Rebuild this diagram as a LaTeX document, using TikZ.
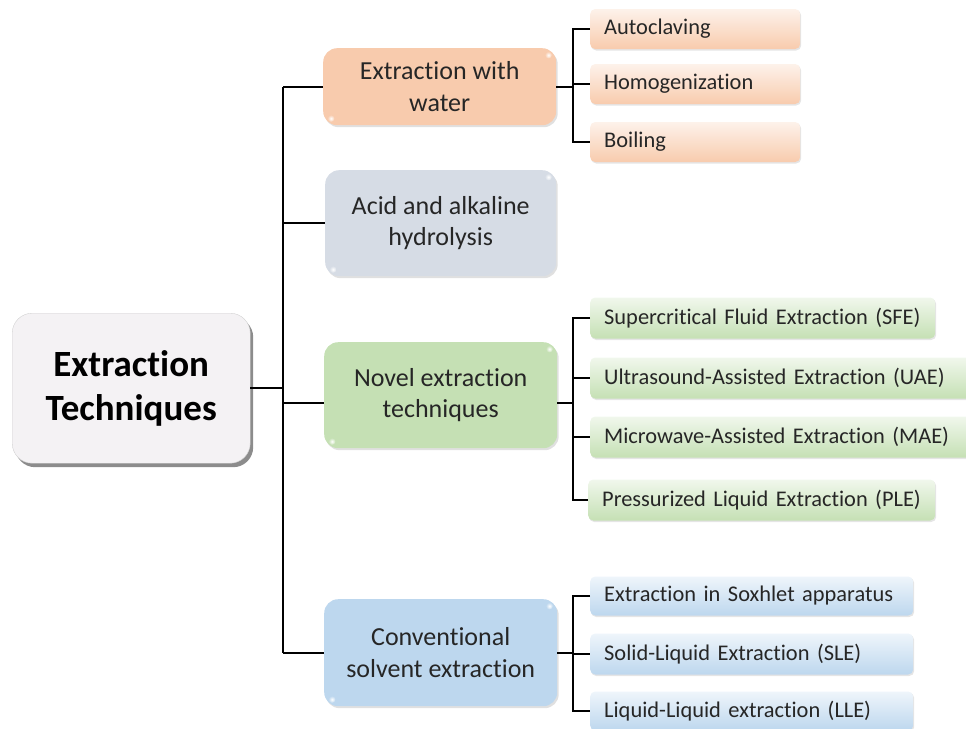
\documentclass[tikz,border=0pt]{standalone}
\usepackage{fontspec}
\setmainfont{Carlito}[RawFeature={-liga}]
\usetikzlibrary{shadows,calc}

\definecolor{ink}{HTML}{262626}
\definecolor{peach}{HTML}{F8CBAD}
\definecolor{slate}{HTML}{D6DCE5}
\definecolor{sage}{HTML}{C5E0B4}
\definecolor{sky}{HTML}{BDD7EE}
\definecolor{rootfill}{HTML}{F4F2F4}

\begin{document}
\begin{tikzpicture}[x=1pt,y=-1pt,
  conn/.style={line width=1.8pt, black},
  rootbox/.style={anchor=north west, rounded corners=20pt, fill=rootfill,
    draw=gray!35, line width=0.4pt,
    text=black, font=\fontsize{37}{44}\selectfont\bfseries, align=center,
    minimum width=238pt, minimum height=150pt, inner sep=0pt,
    drop shadow={shadow xshift=3pt, shadow yshift=-4pt, fill=black, opacity=0.45}},
  catbox/.style={anchor=north west, rounded corners=14pt, fill=#1,
    text=ink, font=\fontsize{26}{31.5}\selectfont, align=center,
    inner sep=0pt,
    drop shadow={shadow xshift=1.5pt, shadow yshift=-2pt, fill=black, opacity=0.12}},
  leafbox/.style={anchor=west, rounded corners=5pt, top color=#1!25, bottom color=#1,
    text=ink, font=\fontsize{22.4}{26}\selectfont,
    inner xsep=14pt, inner ysep=0pt,
    drop shadow={shadow xshift=1pt, shadow yshift=-1.5pt, fill=black, opacity=0.10}}
]
\useasboundingbox (0,0) rectangle (966,728);
\begin{scope}
\clip (0,0) rectangle (966,728);

% root
\node[rootbox] (root) at (12,313) {Extraction\\Techniques};

% main branches
\node[catbox=peach, minimum width=233pt, minimum height=77pt] (water) at (323,48) {Extraction with\\water};
\node[catbox=slate, minimum width=231pt, minimum height=106pt] (acid) at (325,170) {Acid and alkaline\\hydrolysis};
\node[catbox=sage, minimum width=233pt, minimum height=106pt] (novel) at (324,342) {Novel extraction\\techniques};
\node[catbox=sky, minimum width=233pt, minimum height=107pt] (conv) at (324,599) {Conventional\\solvent extraction};

% soft highlights on the branch boxes
\foreach \b/\c in {water/peach,acid/slate,novel/sage,conv/sky}{
  \shade[inner color=white, outer color=\c] ([xshift=-8pt,yshift=-7pt]\b.north east) circle (3.5pt);
  \shade[inner color=white, outer color=\c] ([xshift=8pt,yshift=7pt]\b.south west) circle (3.5pt);
}

% leaves: water
\node[leafbox=peach, text width=182pt, minimum height=40pt] (auto) at (590,29) {Autoclaving};
\node[leafbox=peach, text width=182pt, minimum height=40pt] (homo) at (590,84) {Homogenization};
\node[leafbox=peach, text width=182pt, minimum height=40pt] (boil) at (590,142) {Boiling};

% leaves: novel techniques
\node[leafbox=sage, text width=317pt, minimum height=41pt] (sfe) at (590,318) {Supercritical Fluid Extraction (SFE)};
\node[leafbox=sage, text width=372pt, minimum height=41pt] (uae) at (590,378) {Ultrasound-Assisted Extraction (UAE)};
\node[leafbox=sage, text width=372pt, minimum height=41pt] (mae) at (590,437) {Microwave-Assisted Extraction (MAE)};
\node[leafbox=sage, text width=319pt, minimum height=41pt] (ple) at (588,500) {Pressurized Liquid Extraction (PLE)};

% leaves: conventional
\node[leafbox=sky, text width=295pt, minimum height=39pt] (sox) at (590,596) {Extraction in Soxhlet apparatus};
\node[leafbox=sky, text width=295pt, minimum height=41pt] (sle) at (590,654) {Solid-Liquid Extraction (SLE)};
\node[leafbox=sky, text width=295pt, minimum height=39pt] (lle) at (590,711) {Liquid-Liquid extraction (LLE)};

% connector rails
\coordinate (tx) at (283,0);
\coordinate (bx) at (573,0);
\coordinate (novelIn) at ([yshift=-8pt]novel.west);
\coordinate (novelOut) at ([yshift=-8pt]novel.east);

% trunk
\draw[conn] (tx |- water.west) -- (tx |- conv.west);
\draw[conn] (root.east) -- (tx |- root.east);
\draw[conn] (tx |- water.west) -- (water.west);
\draw[conn] (tx |- acid.west) -- (acid.west);
\draw[conn] (tx |- novelIn) -- (novelIn);
\draw[conn] (tx |- conv.west) -- (conv.west);

% water brackets
\draw[conn] (water.east) -- (bx |- water.east);
\draw[conn] (auto.west) -| (bx |- boil.west) -- (boil.west);
\draw[conn] (bx |- homo.west) -- (homo.west);

% novel brackets
\draw[conn] (novelOut) -- (bx |- novelOut);
\draw[conn] (sfe.west) -| (bx |- ple.west) -- (ple.west);
\draw[conn] (bx |- uae.west) -- (uae.west);
\draw[conn] (bx |- mae.west) -- (mae.west);

% conventional brackets
\draw[conn] (conv.east) -- (bx |- conv.east);
\draw[conn] (sox.west) -| (bx |- lle.west) -- (lle.west);
\draw[conn] (bx |- sle.west) -- (sle.west);
\end{scope}
\end{tikzpicture}
\end{document}
